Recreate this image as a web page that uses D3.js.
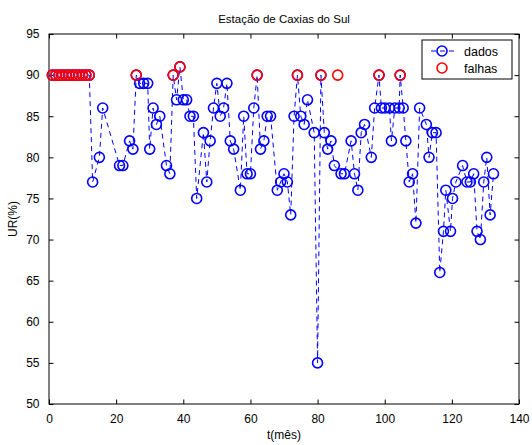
<!DOCTYPE html>
<html>
<head>
<meta charset="utf-8">
<script src="https://cdn.jsdelivr.net/npm/d3@7/dist/d3.min.js"></script>
<style>
  body { margin: 0; background: #fff; }
  svg text { font-family: "Liberation Sans", Arial, Helvetica, sans-serif; fill: #000; }
</style>
</head>
<body>
<svg id="chart" width="532" height="445"></svg>
<script>
// Umidade relativa mensal (UR, %) — série medida
const meses = [1,2,3,4,5,6,7,8,9,10,11,12,13,15,16,21,22,24,25,26,27,28.2,29.4,30,31,32,33,35,36,37,38,39,40,41,42,43,44,46,47,48,49,50,51,52,53,54,55,57,58,59,60,61,62,63,64,65,66,68,69,70,71,72,73,74,75,76,77,79,80,81,82,83,84,85,87,88,90,91,92,93,94,96,97,98.3,99,100,101.4,102,103,104.3,104.6,105.5,106.3,107.3,108.3,109.3,110.4,112.4,113.2,114.2,115.3,116.4,117.5,118.2,119.6,120.2,121.2,123.2,124.5,125.5,126.5,127.5,128.5,129.5,130.4,131.4,132.4];
const umidade = [90,90,90,90,90,90,90,90,90,90,90,90,77,80,86,79,79,82,81,90,89,89,89,81,86,84,85,79,78,90,87,91,87,87,85,85,75,83,77,82,86,89,85,86,89,82,81,76,85,78,78,86,90,81,82,85,85,76,77,78,77,73,85,90,85,84,87,83,55,90,83,81,82,79,78,78,82,78,76,83,84,80,86,90,86,86,86,82,86,86,90,86,82,77,78,72,86,84,80,83,83,66,71,76,71,75,77,79,77,77,78,71,70,77,80,73,78];

// Meses com falha (valores preenchidos)
const mesesFalhas = [1,2,3,4,5,6,7,8,9,10,11,12,26,37,39,62,74,81,86,98.3,104.6];
const umidadeFalhas = [90,90,90,90,90,90,90,90,90,90,90,90,90,90,91,90,90,90,90,90,90];

const xTicks = [0,20,40,60,80,100,120,140];
const yTicks = [50,55,60,65,70,75,80,85,90,95];

const titulo = "Estação de Caxias do Sul";
const rotuloX = "t(mês)";
const rotuloY = "UR(%)";
const legenda = ["dados", "falhas"];

const svg = d3.select("#chart");
const L = 49, R = 519, T = 34, B = 404;

const x = d3.scaleLinear().domain([0, 140]).range([L, R]);
const y = d3.scaleLinear().domain([50, 95]).range([B, T]);

// eixos com marcas para dentro (estilo caixa)
const tick = 4.5;
svg.append("g").attr("transform", `translate(0,${B})`)
  .call(d3.axisBottom(x).tickValues(xTicks).tickSizeInner(-tick).tickSizeOuter(0).tickPadding(6 + tick))
  .call(g => g.selectAll("text").attr("font-size", 12).attr("font-family", "Liberation Sans, Arial, sans-serif"));
svg.append("g").attr("transform", `translate(0,${T})`)
  .call(d3.axisTop(x).tickValues(xTicks).tickSizeInner(-tick).tickSizeOuter(0).tickFormat(""));
svg.append("g").attr("transform", `translate(${L},0)`)
  .call(d3.axisLeft(y).tickValues(yTicks).tickSizeInner(-tick).tickSizeOuter(0).tickPadding(5 + tick))
  .call(g => g.selectAll("text").attr("font-size", 12).attr("font-family", "Liberation Sans, Arial, sans-serif"));
svg.append("g").attr("transform", `translate(${R},0)`)
  .call(d3.axisRight(y).tickValues(yTicks).tickSizeInner(-tick).tickSizeOuter(0).tickFormat(""));
svg.selectAll(".domain").remove();
svg.selectAll(".tick line").attr("stroke", "#000");

svg.append("rect").attr("x", L).attr("y", T).attr("width", R - L).attr("height", B - T)
  .attr("fill", "none").attr("stroke", "#000").attr("stroke-width", 1);

const dados = meses.map((m, i) => ({ t: m, v: umidade[i] }));
const falhas = mesesFalhas.map((m, i) => ({ t: m, v: umidadeFalhas[i] }));

const raio = 5;

const linha = d3.line().x(d => x(d.t)).y(d => y(d.v));
svg.append("path").datum(dados).attr("d", linha)
  .attr("fill", "none").attr("stroke", "#0000ff").attr("stroke-width", 1)
  .attr("stroke-dasharray", "5,4");

svg.append("g").selectAll("circle").data(dados).join("circle")
  .attr("cx", d => x(d.t)).attr("cy", d => y(d.v)).attr("r", raio)
  .attr("fill", "none").attr("stroke", "#0000ff").attr("stroke-width", 1.6);

svg.append("g").selectAll("circle").data(falhas).join("circle")
  .attr("cx", d => x(d.t)).attr("cy", d => y(d.v)).attr("r", raio)
  .attr("fill", "none").attr("stroke", "#ff0000").attr("stroke-width", 1.6);

// título e rótulos
svg.append("text").attr("x", (L + R) / 2).attr("y", 23).attr("text-anchor", "middle")
  .attr("font-size", 11.5).text(titulo);
svg.append("text").attr("x", (L + R) / 2).attr("y", 439).attr("text-anchor", "middle")
  .attr("font-size", 12).text(rotuloX);
svg.append("text").attr("transform", `translate(17,${(T + B) / 2}) rotate(-90)`)
  .attr("text-anchor", "middle").attr("font-size", 12).text(rotuloY);

// legenda
const lg = svg.append("g").attr("transform", "translate(422,40)");
lg.append("rect").attr("width", 90).attr("height", 39).attr("fill", "#fff")
  .attr("stroke", "#000").attr("stroke-width", 1);
lg.append("line").attr("x1", 9).attr("x2", 32).attr("y1", 11).attr("y2", 11)
  .attr("stroke", "#0000ff").attr("stroke-width", 1).attr("stroke-dasharray", "5,4");
lg.append("circle").attr("cx", 20).attr("cy", 11).attr("r", raio)
  .attr("fill", "none").attr("stroke", "#0000ff").attr("stroke-width", 1.6);
lg.append("circle").attr("cx", 20).attr("cy", 28).attr("r", raio)
  .attr("fill", "none").attr("stroke", "#ff0000").attr("stroke-width", 1.6);
lg.append("text").attr("x", 42).attr("y", 15.5).attr("font-size", 12.5).text(legenda[0]);
lg.append("text").attr("x", 42).attr("y", 32.5).attr("font-size", 12.5).text(legenda[1]);
</script>
</body>
</html>
